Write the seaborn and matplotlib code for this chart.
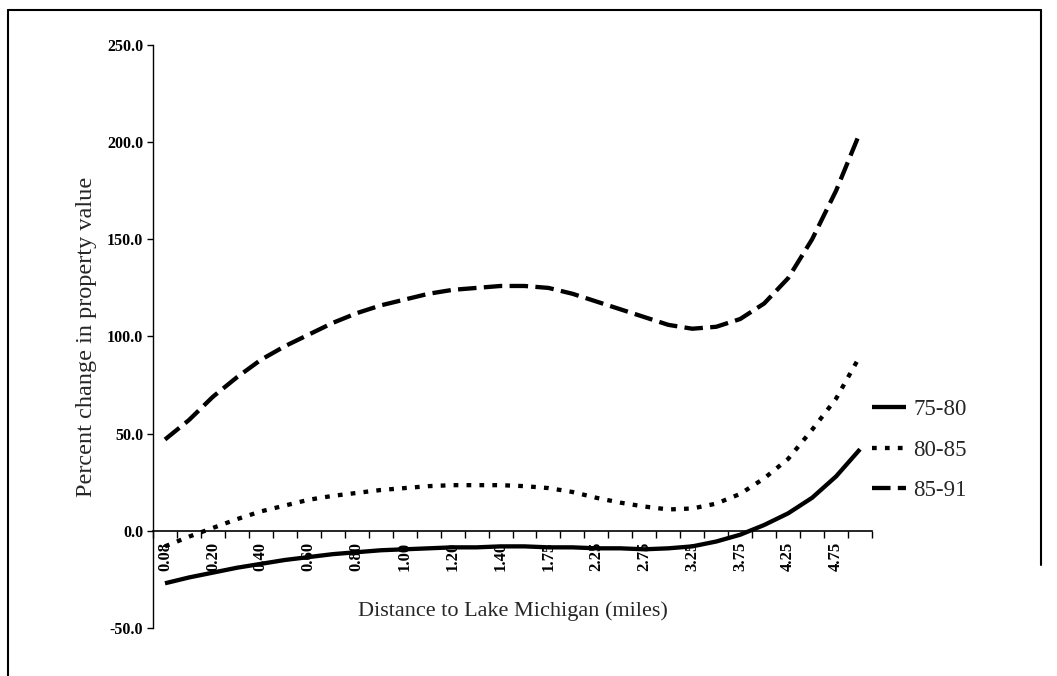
import numpy as np
import pandas as pd
import seaborn as sns
import matplotlib.pyplot as plt
from matplotlib.lines import Line2D

# distance categories (miles)
distance = ['0.08', '0.10', '0.20', '0.30', '0.40', '0.50', '0.60', '0.70',
            '0.80', '0.90', '1.00', '1.10', '1.20', '1.30', '1.40', '1.50',
            '1.75', '2.00', '2.25', '2.50', '2.75', '3.00', '3.25', '3.50',
            '3.75', '4.00', '4.25', '4.50', '4.75', '5.00']

# percent change in property value per period
chg_75_80 = [-27, -24, -21.5, -19, -17, -15, -13.5, -12, -11, -10,
             -9.5, -9, -8.5, -8.5, -8, -8, -8.5, -8.5, -9, -9,
             -9.5, -9, -8, -5.5, -2, 3, 9, 17, 28, 42]
chg_80_85 = [-8, -3, 1.5, 6, 10, 13, 16, 18, 19.5, 21,
             22, 23, 23.5, 23.5, 23.5, 23, 22, 20, 17, 14.5,
             12.5, 11, 11.5, 14, 19, 27, 37, 52, 68, 90]
chg_85_91 = [47, 57, 69, 79, 88, 95, 101, 107, 112, 116,
             119, 122, 124, 125, 126, 126, 125, 122, 118, 114,
             110, 106, 104, 105, 109, 117, 130, 150, 175, 205]
periods = ['75-80', '80-85', '85-91']

yticks = [-50, 0, 50, 100, 150, 200, 250]

frames = []
for name, vals in zip(periods, [chg_75_80, chg_80_85, chg_85_91]):
    frames.append(pd.DataFrame({'pos': np.arange(len(distance)),
                                'distance': distance,
                                'value': vals,
                                'period': name}))
df = pd.concat(frames, ignore_index=True)

sns.set_style('white')
plt.rcParams['font.family'] = ['Liberation Serif', 'DejaVu Serif']

fig = plt.figure(figsize=(10.57, 6.76), dpi=100)
ax = fig.add_axes([153/1057, 1 - 628/676, (872 - 153)/1057, (628 - 45)/676])

sns.lineplot(data=df, x='pos', y='value', hue='period', style='period',
             palette=['black'] * 3,
             dashes={'75-80': '', '80-85': (1.1, 1.9), '85-91': (4.3, 1.7)},
             linewidth=3.1, ax=ax)
for ln in ax.get_lines():
    ln.set_solid_capstyle('butt')

ax.set_xlim(-0.5, len(distance) - 0.5)
ax.set_ylim(-50, 250)

for s in ['top', 'right']:
    ax.spines[s].set_visible(False)
ax.spines['bottom'].set_position(('data', 0))
ax.spines['bottom'].set_linewidth(1.2)
ax.spines['left'].set_linewidth(1.0)
for s in ['bottom', 'left']:
    ax.spines[s].set_color('black')

ax.set_yticks(yticks)
ax.set_yticklabels([f'{v:.1f}' for v in yticks], fontsize=11.5, fontweight='bold')
ax.tick_params(axis='y', direction='out', length=4, width=1, pad=3,
               left=True, colors='black')

ax.set_xticks(np.arange(0, len(distance), 2))
ax.set_xticklabels(distance[0::2], rotation=90, fontsize=12, fontweight='bold')
ax.set_xticks(np.arange(-0.5, len(distance), 1), minor=True)
ax.tick_params(axis='x', which='major', length=0, pad=8, colors='black')
ax.tick_params(axis='x', which='minor', direction='out', length=5, width=1,
               bottom=True, color='black')

ax.set_ylabel('Percent change in property value', fontsize=17.5, labelpad=7)
ax.set_xlabel('Distance to Lake Michigan (miles)', fontsize=16)
ax.xaxis.set_label_coords(0.5, 0.045)

handles, labels = ax.get_legend_handles_labels()
ax.legend(handles, labels, loc='center left', frameon=False,
          bbox_to_anchor=(872/1057, 1 - 450/676), bbox_transform=fig.transFigure,
          fontsize=16.5, handlelength=1.5, handletextpad=0.3, labelspacing=0.85,
          borderpad=0, borderaxespad=0)

# outer frame
kw = dict(transform=fig.transFigure, color='black', lw=1.5)
fig.add_artist(Line2D([8/1057, 8/1057], [0, 1 - 10/676], **kw))
fig.add_artist(Line2D([8/1057, 1041/1057], [1 - 10/676, 1 - 10/676], **kw))
fig.add_artist(Line2D([1041/1057, 1041/1057], [1 - 10/676, 1 - 565/676], **kw))

fig.savefig('out.png', dpi=100)
